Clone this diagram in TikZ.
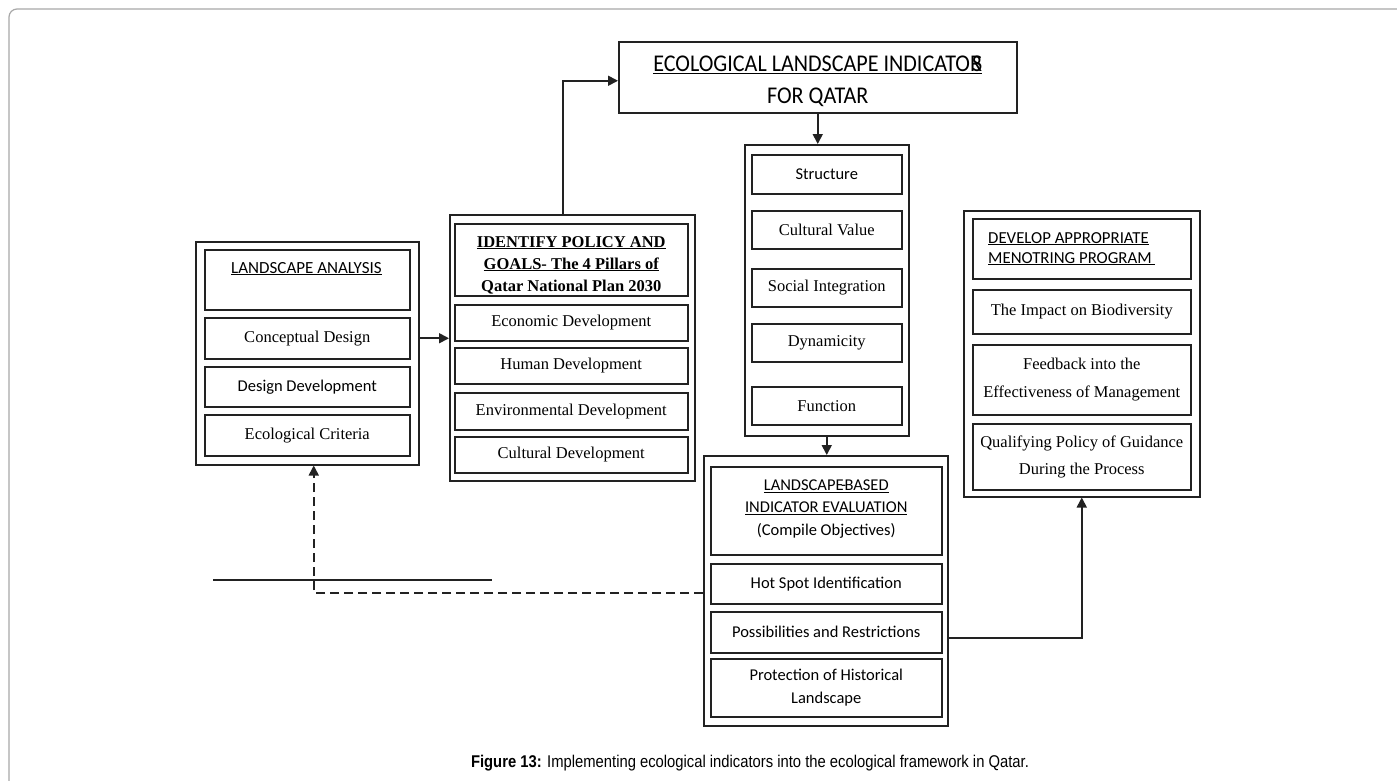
\documentclass[tikz,border=0pt]{standalone}
\usepackage{fontspec}
\setmainfont{Liberation Serif}
\newfontfamily\calfont{Carlito}
\newfontfamily\calcond[FakeStretch=0.92]{Carlito}
\newfontfamily\capfont[FakeStretch=0.87]{Liberation Sans}
\usetikzlibrary{arrows.meta,calc}
\definecolor{ink}{HTML}{222222}
\definecolor{framegray}{HTML}{A8A8A8}
\newcommand{\sz}{\fontsize{16.5}{22}\selectfont}
\begin{document}
\begin{tikzpicture}[x=1pt,y=-1pt,
  box/.style={draw=ink, line width=1.5pt, inner sep=0pt, align=center, anchor=north west, font=\sz},
  sbox/.style={box, font=\calfont\sz},
  outerbox/.style={draw=ink, line width=1.5pt, inner sep=0pt, anchor=north west},
  txt/.style={inner sep=0pt, align=center, font=\sz},
  arr/.style={draw=ink, line width=1.7pt, -{Triangle[length=10pt,width=10pt]}},
  dasharr/.style={arr, dash pattern=on 9pt off 5pt},
  plain/.style={draw=ink, line width=1.8pt}
]
\useasboundingbox (0,0) rectangle (1397,780);
\fill[white] (0,0) rectangle (1397,780);
% frame
\draw[framegray, line width=1.2pt, rounded corners=8pt] (9,781) -- (9,9) -- (1398,9);

% top box
\node[box, minimum width=398pt, minimum height=71pt] (eli) at (618,41) {};
\node[txt, font=\calcond\fontsize{24}{32}\selectfont, anchor=north] (elit) at (eli.north |- 0,55.5)
  {\underline{ECOLOGICAL LANDSCAPE INDICATOR\kern-.42em S}\\FOR QATAR};

% landscape analysis
\node[outerbox, minimum width=223pt, minimum height=223pt] (la) at (195,241) {};
\node[box, minimum width=205pt, minimum height=60pt] (laH) at (204,249) {};
\node[txt, font=\calfont\fontsize{17}{22}\selectfont, anchor=base] (laHt) at (306.5,273) {\underline{LANDSCAPE ANALYSIS}};
\node[box, minimum width=205pt, minimum height=41pt] (la1) at (204,317) {Conceptual Design};
\node[sbox, minimum width=205pt, minimum height=40pt] (la2) at (204,366) {Design Development};
\node[box, minimum width=205pt, minimum height=41pt] (la3) at (204,414) {Ecological Criteria};

% policy
\node[outerbox, minimum width=245pt, minimum height=266pt] (pol) at (449,214) {};
\node[box, minimum width=233pt, minimum height=72pt] (polH) at (454,223) {};
\node[txt, font=\bfseries\fontsize{16.5}{22}\selectfont, anchor=north] (polHt) at (polH.north |- 0,236)
  {\underline{IDENTIFY POLICY AND}\\\underline{GOALS- The 4 Pillars of}\\Qatar National Plan 2030};
\node[box, minimum width=233pt, minimum height=36pt] (p1) at (454,304) {Economic Development};
\node[box, minimum width=233pt, minimum height=36pt] (p2) at (454,347) {Human Development};
\node[box, minimum width=233pt, minimum height=37pt] (p3) at (454,392) {Environmental Development};
\node[box, minimum width=233pt, minimum height=36pt] (p4) at (454,436) {Cultural Development};

% indicators column
\node[outerbox, minimum width=164pt, minimum height=291pt] (ind) at (744,144) {};
\node[sbox, minimum width=150pt, minimum height=39pt] (i1) at (751,154) {Structure};
\node[box, minimum width=150pt, minimum height=38pt] (i2) at (751,210) {Cultural Value};
\node[box, minimum width=150pt, minimum height=38pt] (i3) at (751,268) {Social Integration};
\node[box, minimum width=150pt, minimum height=38pt] (i4) at (751,323) {Dynamicity};
\node[box, minimum width=150pt, minimum height=38pt] (i5) at (751,386) {Function};

% landscape-based evaluation
\node[outerbox, minimum width=244pt, minimum height=270pt] (lb) at (703,455) {};
\node[box, minimum width=231pt, minimum height=88pt] (lbH) at (710,466) {};
\node[txt, font=\calfont\fontsize{16.5}{22.5}\selectfont, anchor=north] (lbHt) at (lbH.north |- 0,479.5)
  {\underline{LANDSCAPE\kern-.15em-\kern-.1em BASED}\\\underline{INDICATOR EVALUATION}\\(Compile Objectives)};
\node[sbox, minimum width=231pt, minimum height=40pt] (lb1) at (710,563) {Hot Spot Identification};
\node[sbox, minimum width=231pt, minimum height=41pt] (lb2) at (710,611) {Possibilities and Restrictions};
\node[sbox, font=\calfont\fontsize{16.5}{23}\selectfont, minimum width=231pt, minimum height=58pt] (lb3) at (710,658) {Protection of Historical\\Landscape};

% monitoring
\node[outerbox, minimum width=236pt, minimum height=286pt] (mon) at (963,210) {};
\node[box, minimum width=218pt, minimum height=60pt] (mH) at (972,218) {};
\node[txt, font=\calfont\fontsize{16.8}{20}\selectfont, align=left, anchor=north west] (mHt) at (988,232)
  {\underline{DEVELOP APPROPRIATE}\\\underline{MENOTRING PROGRAM\ }};
\node[box, minimum width=218pt, minimum height=44pt] (m1) at (972,289) {The Impact on Biodiversity};
\node[box, font=\fontsize{16.5}{28}\selectfont, minimum width=218pt, minimum height=70pt] (m2) at (972,344) {Feedback into the\\Effectiveness of Management};
\node[box, font=\fontsize{16.5}{27}\selectfont, minimum width=218pt, minimum height=66pt] (m3) at (972,423) {Qualifying Policy of Guidance\\During the Process};

% connectors
\draw[arr] ([xshift=-9.5pt]pol.north) |- ([yshift=-3.5pt]eli.west);
\draw[arr] (eli.south) -- (eli.south |- ind.north);
\draw[arr] (ind.south) -- (ind.south |- lb.north);
\draw[arr] (la1.east -| la.east) -- (la1.east -| pol.west);
\draw[arr] ([yshift=-5.5pt]lb2.east -| lb.east) -| (mon.south);
\draw[dasharr] ([yshift=-9pt]lb1.west -| lb.west) -| ([xshift=6.5pt]la.south);
\coordinate (s1) at (213,580);
\coordinate (s2) at (492,580);
\draw[plain] (s1) -- (s2);

% caption
\node[inner sep=0pt, anchor=base, font=\capfont\fontsize{17}{20}\selectfont] (cap) at (750,767)
  {\textbf{Figure 13:} Implementing ecological indicators into the ecological framework in Qatar.};
\end{tikzpicture}
\end{document}
